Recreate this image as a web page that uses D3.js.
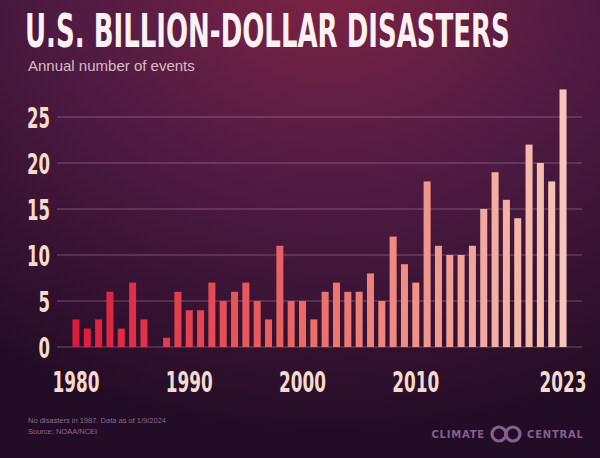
<!DOCTYPE html>
<html><head><meta charset="utf-8">
<script src="https://cdn.jsdelivr.net/npm/d3@7"></script>
<style>html,body{margin:0;padding:0;background:#2a0f2c;}svg{display:block;}</style>
</head><body>
<svg id="c" width="600" height="458"></svg>
<script>
const years = d3.range(1980, 2024);
const events = [3,2,3,6,2,7,3,0,1,6, 4,4,7,5,6,7,5,3,11,5, 5,3,6,7,6,6,8,5,12,9, 7,18,11,10,10,11,15,19,16,14, 22,20,18,28];
const yTicks = [0,5,10,15,20,25];
const xTickYears = [1980,1990,2000,2010,2023];

const svg = d3.select("#c");
const defs = svg.append("defs");
const bg = defs.append("radialGradient").attr("id","bg").attr("cx","0.55").attr("cy","0.0").attr("r","0.95").attr("fx","0.55").attr("fy","-0.05");
bg.append("stop").attr("offset","0").attr("stop-color","#7e2444");
bg.append("stop").attr("offset","0.45").attr("stop-color","#511b43");
bg.append("stop").attr("offset","1").attr("stop-color","#230c26");
svg.append("rect").attr("width",600).attr("height",458).attr("fill","url(#bg)");

const x = d3.scaleBand().domain(years).range([70.3, 568.7]).paddingInner(0.38).paddingOuter(0.19);
const y = d3.scaleLinear().domain([0,25]).range([347, 117]);
const col = d3.scaleLinear().domain([1980, 2000, 2023]).range(["#dc1c3c","#ea6a66","#f7c6b6"]);

const font = "'Liberation Sans Narrow','DejaVu Sans Condensed',sans-serif";

// squeeze a text horizontally to a target width, anchored at (ax, ay)
function squeeze(node, target, ax, ay, anchor) {
  const w = node.getComputedTextLength();
  const s = Math.min(1, target / w);
  d3.select(node).attr("x", 0).attr("y", 0).attr("text-anchor", anchor)
    .attr("transform", `translate(${ax},${ay}) scale(${s},1)`);
}

// gridlines
svg.append("g").selectAll("line").data(yTicks).join("line")
  .attr("x1",57).attr("x2",582).attr("y1",d=>y(d)).attr("y2",d=>y(d))
  .attr("stroke", "rgba(225,175,205,0.38)").attr("stroke-width",1.2);

// y axis labels
const yAxis = d3.axisLeft(y).tickValues(yTicks).tickSize(0).tickPadding(0);
const yg = svg.append("g").attr("transform","translate(50,0)").call(yAxis);
yg.select(".domain").remove();
yg.selectAll("text").attr("font-family",font).attr("font-weight","bold").attr("font-size",28)
  .attr("fill","#f4dccd").attr("dy","0.36em")
  .each(function(d){ squeeze(this, String(d).length*11.5, 0, 0, "end"); });

// bars
svg.append("g").selectAll("rect").data(years.map((yr,i)=>({yr, v: events[i]}))).join("rect")
  .attr("x",d=>x(d.yr)).attr("width",x.bandwidth())
  .attr("y",d=>y(d.v)).attr("height",d=>y(0)-y(d.v))
  .attr("fill",d=>col(d.yr));

// x axis labels
const xAxis = d3.axisBottom(x).tickValues(xTickYears).tickSize(0).tickPadding(0);
const xg = svg.append("g").attr("transform","translate(0,372)").call(xAxis);
xg.select(".domain").remove();
xg.selectAll("text").attr("font-family",font).attr("font-weight","bold").attr("font-size",28)
  .attr("fill","#f4dccd").attr("dy","0.72em")
  .each(function(){ squeeze(this, 47, 0, 0, "middle"); });

// title
const title = svg.append("text").text("U.S. BILLION-DOLLAR DISASTERS")
  .attr("font-family",font).attr("font-weight","bold").attr("font-size",46)
  .attr("fill","#fbf1f2");
squeeze(title.node(), 485, 25, 47, "start");
svg.append("text").attr("x",28).attr("y",71).text("Annual number of events")
  .attr("font-family","'Liberation Sans','DejaVu Sans',sans-serif").attr("font-size",15)
  .attr("fill","#d9bcc3");

// footer
svg.append("text").attr("x",28).attr("y",423).text("No disasters in 1987. Data as of 1/9/2024")
  .attr("font-family","'Liberation Sans',sans-serif").attr("font-size",7.5).attr("fill","#8d6a90");
svg.append("text").attr("x",28).attr("y",434).text("Source: NOAA/NCEI")
  .attr("font-family","'Liberation Sans',sans-serif").attr("font-size",7.5).attr("fill","#8d6a90");

// logo
const logoCol = "#86608c";
svg.append("text").attr("x",485).attr("y",438).attr("text-anchor","end").text("CLIMATE")
  .attr("font-family","'DejaVu Sans',sans-serif").attr("font-weight","bold").attr("font-size",10)
  .attr("letter-spacing",0.8).attr("fill",logoCol);
svg.append("text").attr("x",527).attr("y",438).text("CENTRAL")
  .attr("font-family","'DejaVu Sans',sans-serif").attr("font-weight","bold").attr("font-size",10)
  .attr("letter-spacing",0.8).attr("fill",logoCol);
const lg = svg.append("g").attr("fill","none").attr("stroke",logoCol).attr("stroke-width",3.2);
lg.append("circle").attr("cx",499).attr("cy",434).attr("r",7);
lg.append("circle").attr("cx",513).attr("cy",434).attr("r",7);
</script>
</body></html>
